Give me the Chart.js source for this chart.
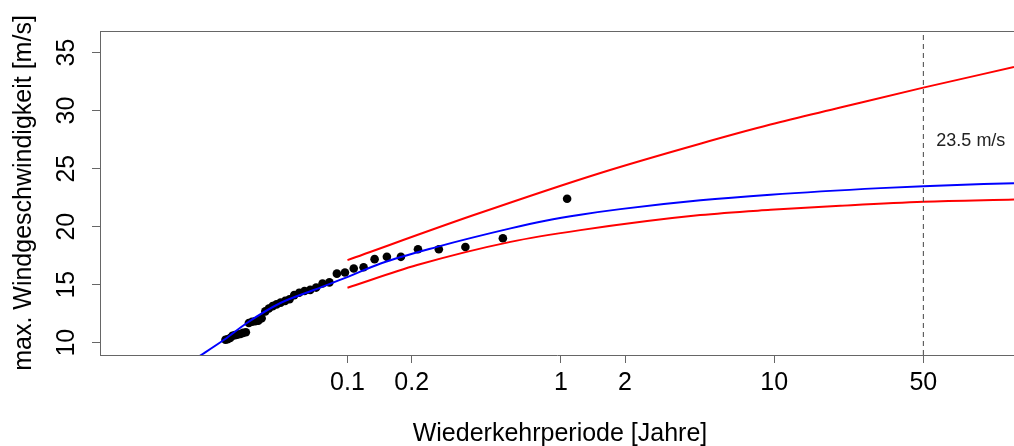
<!DOCTYPE html>
<html>
<head>
<meta charset="utf-8">
<script src="https://cdn.jsdelivr.net/npm/chart.js"></script>
<title>Wiederkehrperiode</title>
<style>
  html, body { margin: 0; padding: 0; background: #fff; }
  #wrap { width: 1014px; height: 446px; }
</style>
</head>
<body>
<div id="wrap"><canvas id="chart" width="1014" height="446"></canvas></div>
<script>
// beobachtete Maxima: Wiederkehrperiode [Jahre] und Wert [m/s]
const obsPeriod = [1.07, 0.535, 0.357, 0.268, 0.214, 0.178, 0.153, 0.134, 0.119, 0.107,
  0.0973, 0.0892, 0.0823, 0.0764, 0.0713, 0.0669, 0.0629, 0.0594, 0.0563, 0.0535,
  0.0510, 0.0486, 0.0465, 0.0446, 0.0428, 0.0412, 0.0396, 0.0382, 0.0369, 0.0357,
  0.0345, 0.0334, 0.0324, 0.0315, 0.0306, 0.0297, 0.0289, 0.0282, 0.0274, 0.0268];
const obsSpeed = [22.4, 19.0, 18.25, 18.05, 18.05, 17.4, 17.4, 17.2, 16.5, 16.4,
  16.05, 15.95, 15.2, 15.1, 14.75, 14.55, 14.45, 14.3, 14.1, 13.75,
  13.6, 13.45, 13.3, 13.15, 12.95, 12.7, 12.1, 11.9, 11.85, 11.8,
  11.7, 10.9, 10.85, 10.75, 10.7, 10.65, 10.6, 10.4, 10.3, 10.25];

// angepasste Kurve
const fitPeriod = [0.0195, 0.0263, 0.0339, 0.0485, 0.0695, 0.0997, 0.143, 0.263, 0.581,
  0.847, 1.235, 1.9, 4.51, 9.6, 31.5, 50, 133];
const fitSpeed = [8.65, 10.23, 11.72, 13.42, 14.54, 15.65, 16.83, 18.26, 19.85,
  20.51, 21.03, 21.51, 22.27, 22.75, 23.32, 23.49, 23.75];

// Konfidenzgrenzen
const upperPeriod = [0.1, 0.391, 1.533, 4.5, 9.6, 20.4, 50, 133];
const upperSpeed = [17.12, 21.0, 24.63, 27.15, 28.8, 30.26, 31.98, 33.75];
const lowerPeriod = [0.1, 0.212, 0.581, 1.235, 4.5, 9.6, 20.4, 50, 133];
const lowerSpeed = [14.73, 16.69, 18.69, 19.7, 21.0, 21.45, 21.8, 22.15, 22.34];

const xTicks = [0.1, 0.2, 1, 2, 10, 50];
const yTicks = [10, 15, 20, 25, 30, 35];
const markPeriod = 50;
const markLabel = '23.5 m/s';
const markSpeed = 27.4;

const X_MIN = 0.00692, X_MAX = 133;
const Y_MIN = 8.94, Y_MAX = 36.86;
const FONT = "'Liberation Sans', Arial, sans-serif";

const toXY = (xs, ys) => xs.map((x, i) => ({ x: x, y: ys[i] }));

const deko = {
    id: 'deko',
    afterDraw(chart) {
        const ctx = chart.ctx;
        const area = chart.chartArea;
        const ys = chart.scales.y;
        const xs = chart.scales.x;
        ctx.save();
        // obere Rahmenlinie
        ctx.strokeStyle = '#666';
        ctx.lineWidth = 1;
        ctx.beginPath();
        ctx.moveTo(area.left, area.top + 0.5);
        ctx.lineTo(area.right, area.top + 0.5);
        ctx.stroke();

        ctx.fillStyle = '#000';
        ctx.font = '25px ' + FONT;
        ctx.textAlign = 'center';
        ctx.textBaseline = 'alphabetic';
        yTicks.forEach(v => {
            ctx.save();
            ctx.translate(74, ys.getPixelForValue(v));
            ctx.rotate(-Math.PI / 2);
            ctx.fillText(String(v), 0, 0);
            ctx.restore();
        });

        // Achsentitel
        ctx.save();
        ctx.translate(31, (area.top + area.bottom) / 2);
        ctx.rotate(-Math.PI / 2);
        ctx.fillText('max. Windgeschwindigkeit [m/s]', 0, 0);
        ctx.restore();
        ctx.fillText('Wiederkehrperiode [Jahre]', 560, 441);

        ctx.font = '18px ' + FONT;
        ctx.textAlign = 'left';
        ctx.textBaseline = 'middle';
        ctx.fillStyle = '#222';
        ctx.fillText(markLabel, xs.getPixelForValue(markPeriod) + 13, ys.getPixelForValue(markSpeed));
        ctx.restore();
    }
};

new Chart(document.getElementById('chart'), {
    type: 'scatter',
    data: {
        datasets: [
            {
                data: [{ x: markPeriod, y: Y_MIN }, { x: markPeriod, y: Y_MAX }],
                showLine: true,
                borderColor: '#444',
                borderWidth: 1,
                borderDash: [5, 4],
                pointRadius: 0
            },
            {
                data: toXY(fitPeriod, fitSpeed),
                showLine: true,
                borderColor: '#0000ff',
                borderWidth: 2,
                pointRadius: 0,
                cubicInterpolationMode: 'monotone',
                clip: 0
            },
            {
                data: toXY(upperPeriod, upperSpeed),
                showLine: true,
                borderColor: '#ff0000',
                borderWidth: 2,
                pointRadius: 0,
                cubicInterpolationMode: 'monotone'
            },
            {
                data: toXY(lowerPeriod, lowerSpeed),
                showLine: true,
                borderColor: '#ff0000',
                borderWidth: 2,
                pointRadius: 0,
                cubicInterpolationMode: 'monotone'
            },
            {
                data: toXY(obsPeriod, obsSpeed),
                backgroundColor: '#000',
                borderWidth: 0,
                pointRadius: 4.3
            }
        ]
    },
    options: {
        responsive: false,
        animation: false,
        devicePixelRatio: 1,
        layout: { autoPadding: false, padding: { top: 31, right: 0, left: 0, bottom: 0 } },
        plugins: {
            legend: { display: false },
            tooltip: { enabled: false }
        },
        scales: {
            x: {
                type: 'logarithmic',
                min: X_MIN,
                max: X_MAX,
                afterBuildTicks: s => { s.ticks = xTicks.map(v => ({ value: v })); },
                afterFit: s => { s.height = 91; },
                ticks: {
                    autoSkip: false,
                    maxRotation: 0,
                    color: '#000',
                    padding: 5,
                    font: { family: FONT, size: 25 },
                    callback: v => String(v)
                },
                grid: { drawOnChartArea: false, tickLength: 8, color: '#666' },
                border: { display: true, color: '#666' }
            },
            y: {
                min: Y_MIN,
                max: Y_MAX,
                afterBuildTicks: s => { s.ticks = yTicks.map(v => ({ value: v })); },
                afterFit: s => { s.width = 100; },
                ticks: { display: false },
                grid: { drawOnChartArea: false, tickLength: 8, color: '#666' },
                border: { display: true, color: '#666' }
            }
        }
    },
    plugins: [deko]
});
</script>
</body>
</html>
